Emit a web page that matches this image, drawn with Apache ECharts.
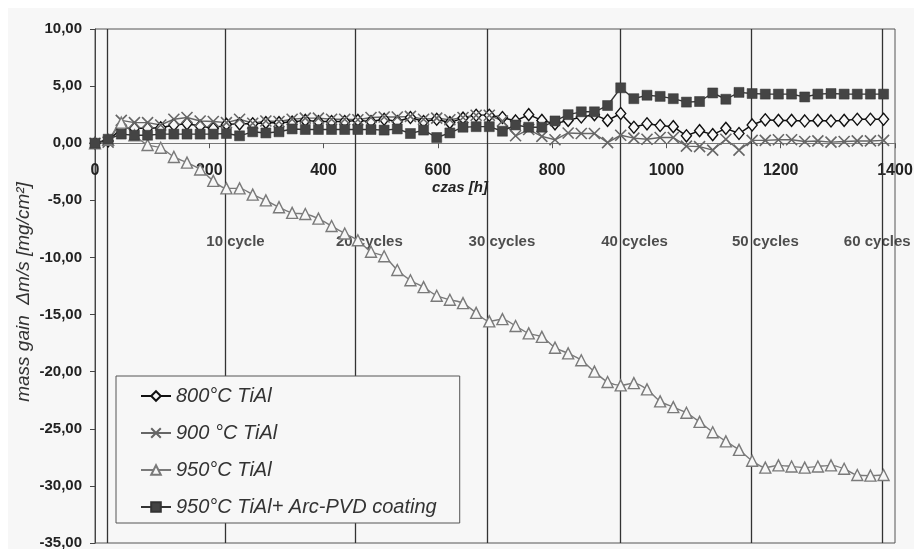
<!DOCTYPE html>
<html>
<head>
<meta charset="utf-8">
<script src="https://cdn.jsdelivr.net/npm/echarts@6.0.0/dist/echarts.min.js"></script>
<style>
  html, body { margin: 0; padding: 0; background: #ffffff; }
  #chart { width: 914px; height: 549px; }
</style>
</head>
<body>
<div id="chart"></div>
<script>
// czas [h] - one point per cycle
var hours = [0, 23, 46, 69, 92, 115, 138, 161, 184, 207, 230, 253, 276, 299, 322, 345, 368, 391, 414, 437,
  460, 483, 506, 529, 552, 575, 598, 621, 644, 667, 690, 713, 736, 759, 782, 805, 828, 851, 874, 897,
  920, 943, 966, 989, 1012, 1035, 1058, 1081, 1104, 1127, 1150, 1173, 1196, 1219, 1242, 1265, 1288, 1311, 1334, 1357, 1380];

var tiAl800 = [0, 0.2, 1.3, 1.3, 1.3, 1.35, 1.6, 1.7, 1.5, 1.3, 1.65, 1.7, 1.7, 1.8, 1.8, 1.85, 2.0, 1.9, 1.9, 1.9,
  2.0, 1.9, 2.1, 1.9, 2.25, 1.9, 2.1, 1.8, 2.2, 2.45, 2.45, 2.25, 1.95, 2.5, 2.0, 1.7, 2.0, 2.3, 2.5, 2.0,
  2.6, 1.4, 1.7, 1.55, 1.45, 0.65, 1.1, 0.75, 1.3, 0.85, 1.6, 2.05, 2.0, 2.0, 1.95, 2.0, 1.95, 2.0, 2.1, 2.1, 2.1];

var tiAl900 = [0, 0.1, 2.0, 1.8, 1.8, 1.6, 2.1, 2.25, 1.95, 1.9, 1.8, 2.1, 1.75, 1.95, 1.9, 2.1, 2.2, 2.2, 2.1, 2.1,
  2.05, 2.25, 2.3, 2.3, 2.35, 2.1, 2.2, 2.05, 2.25, 2.45, 2.45, 1.95, 0.65, 1.2, 0.6, 0.3, 0.9, 0.85, 0.85, 0.05,
  0.7, 0.45, 0.35, 0.5, 0.5, -0.25, -0.3, -0.6, 0.35, -0.6, 0.25, 0.25, 0.3, 0.3, 0.15, 0.2, 0.1, 0.15, 0.2, 0.2, 0.25];

var tiAl950 = [0, 0.3, 1.8, 0.7, -0.15, -0.4, -1.2, -1.7, -2.3, -3.3, -3.95, -3.95, -4.5, -5.0, -5.6, -6.1, -6.2, -6.6, -7.25, -7.9,
  -8.5, -9.5, -9.9, -11.1, -12.0, -12.6, -13.35, -13.7, -14.0, -14.85, -15.6, -15.4, -16.0, -16.65, -16.95, -17.9, -18.4, -19.0, -20.0, -20.9,
  -21.2, -21.0, -21.55, -22.6, -23.1, -23.6, -24.4, -25.3, -26.1, -26.85, -27.8, -28.4, -28.2, -28.3, -28.4, -28.3, -28.2, -28.5, -29.05, -29.1, -29.05];

var tiAl950pvd = [0, 0.35, 0.8, 0.7, 0.7, 0.8, 0.8, 0.8, 0.8, 0.8, 0.85, 0.65, 1.0, 0.9, 1.0, 1.25, 1.2, 1.2, 1.2, 1.2,
  1.2, 1.2, 1.15, 1.25, 0.85, 1.15, 0.5, 0.9, 1.4, 1.45, 1.45, 1.05, 1.6, 1.4, 1.4, 1.95, 2.5, 2.75, 2.75, 3.3,
  4.85, 3.9, 4.2, 4.1, 3.9, 3.6, 3.65, 4.4, 3.85, 4.45, 4.35, 4.3, 4.3, 4.3, 4.05, 4.3, 4.35, 4.3, 4.3, 4.3, 4.3];

var seriesNames = ['800°C TiAl', '900 °C TiAl', '950°C TiAl', '950°C TiAl+ Arc-PVD coating'];

// pionowe linie cykli
var cycleLines = [21, 228, 455, 687, 919, 1148, 1377];
var cycleLabels = ['10 cycle', '20 cycles', '30 cycles', '40 cycles', '50 cycles', '60 cycles'];
var cycleLabelLevel = -8.65;

var yMin = -35, yMax = 10;

function pairs(ys) {
  return hours.map(function (h, i) { return [h, ys[i]]; });
}

var chart = echarts.init(document.getElementById('chart'), null, { renderer: 'canvas' });

var gridTop = 29, gridBottom = 6, chartH = 549;
// os X lezy na poziomie 0 - przesuniecie od dolu siatki
var plotH = chartH - gridTop - gridBottom;
var zeroOffset = -plotH * (0 - yMin) / (yMax - yMin);

var labelData = cycleLabels.map(function (t, i) {
  return {
    value: [cycleLines[i + 1], cycleLabelLevel],
    label: { formatter: t, offset: [i === cycleLabels.length - 1 ? -38 : -19, 0] }
  };
});

var option = {
  backgroundColor: '#ffffff',
  animation: false,
  graphic: [
    { type: 'rect', z: -10, shape: { x: 8, y: 8, width: 906, height: 541 }, style: { fill: '#f7f7f7' } },
    {
      type: 'text', x: 460, y: 188, z: 10,
      style: { text: 'czas [h]', fill: '#222', font: 'italic bold 15px "Liberation Sans", Arial, sans-serif',
        textAlign: 'center', textVerticalAlign: 'middle' }
    },
    {
      type: 'text', x: 24, y: 292, rotation: Math.PI / 2, z: 10,
      style: { text: 'mass gain  Δm/s [mg/cm²]', fill: '#333', font: 'italic 19px "Liberation Sans", Arial, sans-serif',
        textAlign: 'center', textVerticalAlign: 'middle' }
    }
  ],
  grid: {
    left: 95, right: 19, top: gridTop, bottom: gridBottom,
    show: true, borderColor: '#555', borderWidth: 1,
    outerBoundsMode: 'none'
  },
  legend: {
    data: seriesNames,
    orient: 'vertical',
    left: 116, top: 376,
    padding: [10, 23, 6, 24],
    itemWidth: 30, itemHeight: 12, itemGap: 17,
    backgroundColor: '#f7f7f7',
    borderColor: '#555', borderWidth: 1,
    z: 10,
    textStyle: { fontFamily: '"Liberation Sans", Arial, sans-serif', fontStyle: 'italic', fontSize: 20, lineHeight: 20, color: '#333' }
  },
  xAxis: {
    type: 'value', min: 0, max: 1400, interval: 200,
    position: 'bottom', offset: zeroOffset,
    axisLine: { onZero: false, lineStyle: { color: '#777', width: 1 } },
    axisTick: { show: true, length: 5, lineStyle: { color: '#555' } },
    axisLabel: {
      show: true, margin: 19, color: '#222', fontWeight: 'bold', fontSize: 16, fontFamily: '"Liberation Sans", Arial, sans-serif',
      formatter: function (v) { return String(v); }
    },
    splitLine: { show: false }
  },
  yAxis: {
    type: 'value', min: yMin, max: yMax, interval: 5,
    axisLine: { show: true, lineStyle: { color: '#444', width: 1 } },
    axisTick: { show: true, length: 5, lineStyle: { color: '#444' } },
    axisLabel: {
      margin: 13, color: '#222', fontWeight: 'bold', fontSize: 15, fontFamily: '"Liberation Sans", Arial, sans-serif',
      formatter: function (v) { return v.toFixed(2).replace('.', ','); }
    },
    splitLine: { show: false }
  },
  series: [
    {
      name: 'cycles', type: 'scatter', symbolSize: 0, silent: true, z: 1,
      data: labelData,
      label: {
        show: true, position: 'inside', align: 'left', verticalAlign: 'middle',
        color: '#222', fontWeight: 'bold', fontSize: 15, fontFamily: '"Liberation Sans", Arial, sans-serif'
      },
      markLine: {
        silent: true, symbol: ['none', 'none'], z: 1,
        label: { show: false },
        lineStyle: { color: '#333', width: 1.3, type: 'solid' },
        data: cycleLines.map(function (h) { return { xAxis: h }; })
      }
    },
    {
      name: seriesNames[0], type: 'line', data: pairs(tiAl800), color: '#111',
      symbol: 'diamond', symbolSize: [10, 12],
      lineStyle: { color: '#111', width: 1.5 },
      itemStyle: { color: '#f7f7f7', borderColor: '#111', borderWidth: 1.4 }
    },
    {
      name: seriesNames[1], type: 'line', data: pairs(tiAl900), color: '#666',
      symbol: 'path://M0,0L10,10M10,0L0,10', symbolSize: 11,
      lineStyle: { color: '#666', width: 1.4 },
      itemStyle: { color: 'rgba(0,0,0,0)', borderColor: '#666', borderWidth: 1.6 }
    },
    {
      name: seriesNames[2], type: 'line', data: pairs(tiAl950), color: '#777', smooth: 0.3,
      symbol: 'triangle', symbolSize: 11,
      lineStyle: { color: '#7a7a7a', width: 1.4 },
      itemStyle: { color: '#f7f7f7', borderColor: '#7a7a7a', borderWidth: 1.4 }
    },
    {
      name: seriesNames[3], type: 'line', data: pairs(tiAl950pvd), color: '#444',
      symbol: 'rect', symbolSize: 10,
      lineStyle: { color: '#333', width: 1.4 },
      itemStyle: { color: '#444', borderColor: '#333', borderWidth: 0.5 }
    }
  ]
};

chart.setOption(option);
</script>
</body>
</html>
